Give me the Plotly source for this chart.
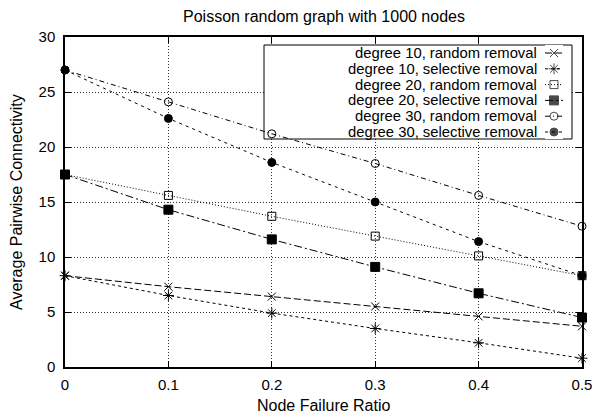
import plotly.graph_objects as go

failure_ratio = [0, 0.1, 0.2, 0.3, 0.4, 0.5]

series_names = [
    "degree 10, random removal",
    "degree 10, selective removal",
    "degree 20, random removal",
    "degree 20, selective removal",
    "degree 30, random removal",
    "degree 30, selective removal",
]

deg10_random = [8.3, 7.3, 6.4, 5.5, 4.6, 3.7]
deg10_selective = [8.3, 6.5, 4.9, 3.5, 2.2, 0.8]
deg20_random = [17.5, 15.6, 13.7, 11.9, 10.1, 8.3]
deg20_selective = [17.5, 14.3, 11.6, 9.1, 6.7, 4.5]
deg30_random = [27.0, 24.1, 21.2, 18.5, 15.6, 12.8]
deg30_selective = [27.0, 22.6, 18.6, 15.0, 11.4, 8.3]

series_values = [deg10_random, deg10_selective, deg20_random,
                 deg20_selective, deg30_random, deg30_selective]

x_ticks = [0, 0.1, 0.2, 0.3, 0.4, 0.5]
x_tick_labels = ["0", "0.1", "0.2", "0.3", "0.4", "0.5"]
y_ticks = [0, 5, 10, 15, 20, 25, 30]
y_tick_labels = ["0", "5", "10", "15", "20", "25", "30"]

title_text = "Poisson random graph with 1000 nodes"
x_title = "Node Failure Ratio"
y_title = "Average Pairwise Connectivity"

styles = [
    dict(symbol="x-thin-open", dash="7px,3px", size=8),
    dict(symbol="asterisk-open", dash="3px,3px", size=9),
    dict(symbol="square-open", dash="1px,2px", size=8),
    dict(symbol="square", dash="8px,3px,2px,3px", size=9),
    dict(symbol="circle-open", dash="5px,3px,1px,3px", size=8),
    dict(symbol="circle", dash="3px,4px", size=8),
]

FONT = "Liberation Sans, Arial, Helvetica, sans-serif"

# plot area in pixels (figure 592x417)
L, R, T, B = 65, 582, 37, 367
W, H = R - L, B - T

def px_x(p):
    return (p - L) / W

def px_y(p):
    return (B - p) / H

fig = go.Figure()
for name, vals, st in zip(series_names, series_values, styles):
    fig.add_trace(go.Scatter(
        x=failure_ratio, y=vals, name=name, mode="lines+markers",
        line=dict(color="black", width=1, dash=st["dash"]),
        marker=dict(symbol=st["symbol"], size=st["size"], color="black",
                    line=dict(color="black", width=1)),
        showlegend=False, cliponaxis=False,
    ))

# ---- gnuplot-style key (text right-aligned, sample on the right) ----
key_left, key_right, key_top, key_bottom = 264, 572, 45, 139
first_entry, entry_step = 53, 15.8
r_top = (key_top - first_entry) / entry_step
r_bot = (key_bottom - first_entry) / entry_step

for i, (name, st) in enumerate(zip(series_names, styles)):
    fig.add_trace(go.Scatter(
        x=[0, 0.5, 1], y=[i, i, i], mode="lines+markers",
        xaxis="x2", yaxis="y2", showlegend=False, hoverinfo="skip",
        line=dict(color="black", width=1, dash=st["dash"]),
        marker=dict(symbol=st["symbol"], size=[0, st["size"], 0], color="black",
                    line=dict(color="black", width=1)),
    ))
    fig.add_annotation(
        text=name, xref="paper", yref="y2", x=px_x(538), y=i,
        xanchor="right", yanchor="middle", showarrow=False, borderpad=0,
        font=dict(size=14.8, color="black", family=FONT),
    )

# key box: drawn above grid, below traces
fig.add_shape(
    type="rect", xref="x", yref="y", layer="between",
    x0=0.5 * px_x(key_left), x1=0.5 * px_x(key_right),
    y0=30 * px_y(key_bottom), y1=30 * px_y(key_top),
    fillcolor="white", line=dict(color="black", width=1),
)

axis_common = dict(
    showline=True, linecolor="black", linewidth=1.5, mirror="ticks",
    ticks="inside", ticklen=6, tickcolor="black", tickwidth=1,
    showgrid=True, gridcolor="#333", griddash="1px,2px", gridwidth=1,
    zeroline=False, automargin=False, ticklabeloverflow="allow",
    tickfont=dict(size=15, color="black", family=FONT),
)

fig.update_layout(
    xaxis=dict(range=[0, 0.5], tickvals=x_ticks, ticktext=x_tick_labels,
               ticklabelstandoff=3, **axis_common),
    yaxis=dict(range=[0, 30], tickvals=y_ticks, ticktext=y_tick_labels,
               ticklabelstandoff=5, **axis_common),
    xaxis2=dict(domain=[px_x(545), px_x(563)], range=[0, 1], anchor="y2",
                visible=False, fixedrange=True),
    yaxis2=dict(domain=[px_y(key_bottom), px_y(key_top)], range=[r_bot, r_top],
                anchor="x2", visible=False, fixedrange=True),
)

fig.add_annotation(text=title_text, xref="paper", yref="paper",
                   x=0.5, y=px_y(16.5), xanchor="center", yanchor="middle",
                   showarrow=False, font=dict(size=16, color="black", family=FONT))
fig.add_annotation(text=x_title, xref="paper", yref="paper",
                   x=0.5, y=px_y(405), xanchor="center", yanchor="middle",
                   showarrow=False, font=dict(size=16, color="black", family=FONT))
fig.add_annotation(text=y_title, xref="paper", yref="paper",
                   x=px_x(16), y=0.5, xanchor="center", yanchor="middle",
                   textangle=-90, showarrow=False,
                   font=dict(size=16, color="black", family=FONT))

fig.update_layout(
    width=592, height=417,
    margin=dict(l=L, r=592 - R, t=T, b=417 - B),
    paper_bgcolor="white", plot_bgcolor="white",
    font=dict(family=FONT, size=15, color="black"),
    showlegend=False,
)

fig.write_html("out.html")
